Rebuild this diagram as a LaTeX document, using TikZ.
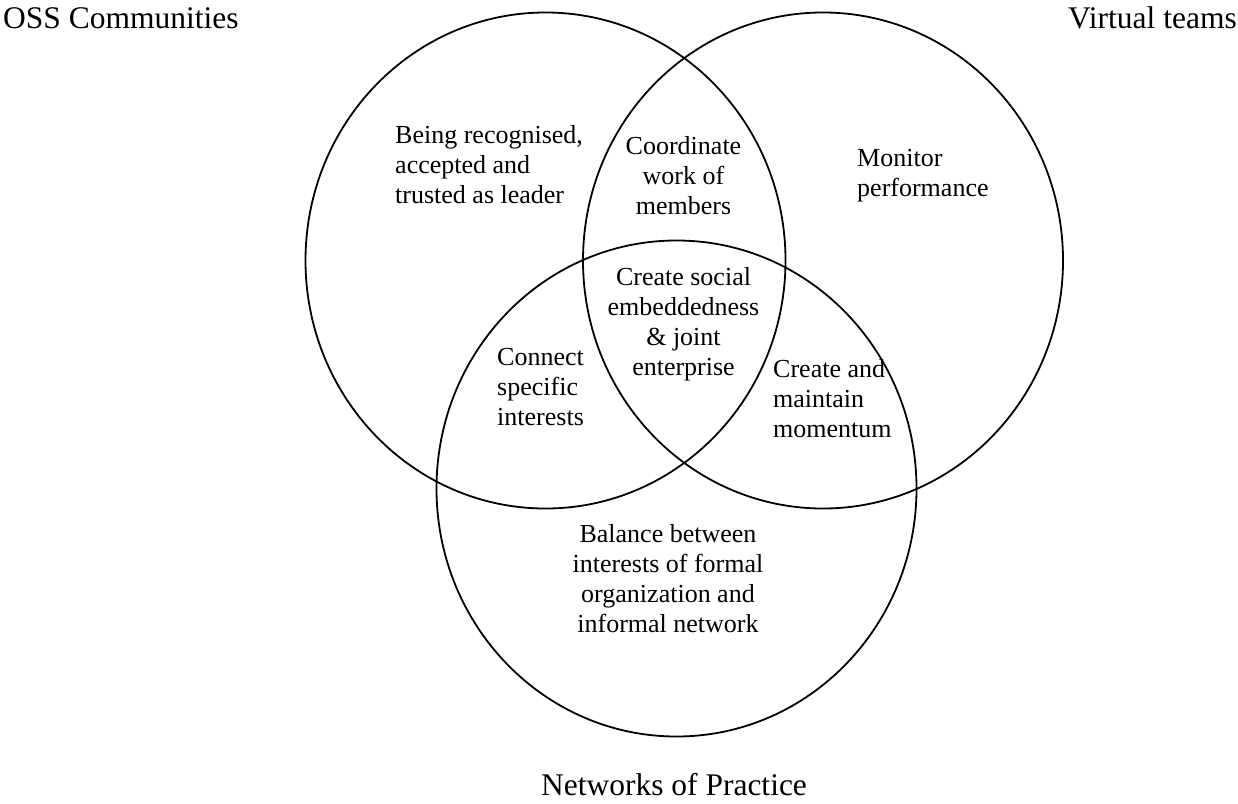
\documentclass[tikz,border=0pt]{standalone}
\usepackage{fontspec}
\setmainfont{Liberation Serif}
\begin{document}
\begin{tikzpicture}[x=1pt,y=-1pt,
  venn/.style={draw=black, line width=1.8pt},
  ttl/.style={inner sep=0pt, font=\fontsize{31.5}{36}\selectfont},
  body/.style={inner sep=0pt, font=\fontsize{26}{30}\selectfont}]
\useasboundingbox (0,0) rectangle (1238,803);
\coordinate (c1) at (545.5,260.5);
\coordinate (c2) at (823,260.5);
\coordinate (c3) at (676.5,488.5);
\draw[venn] (c1) ellipse [x radius=240, y radius=248];
\draw[venn] (c2) ellipse [x radius=240, y radius=248];
\draw[venn] (c3) ellipse [x radius=240, y radius=248];
\node[ttl, anchor=base west] (oss) at (3,28) {OSS Communities};
\node[ttl, anchor=base east] (vt) at (1237,28) {Virtual teams};
\node[ttl, anchor=base] (nop) at (674,795) {Networks of Practice};
% anchor = baseline of the last line
\node[body, align=left, anchor=base west] (lead) at (395,203) {Being recognised,\\accepted and\\trusted as leader};
\node[body, align=center, anchor=base] (coord) at (683.5,214) {Coordinate\\work of\\members};
\node[body, align=left, anchor=base west] (mon) at (857,196) {Monitor\\performance};
\node[body, align=center, anchor=base] (soc) at (683.5,375) {Create social\\embeddedness\\\& joint\\enterprise};
\node[body, align=left, anchor=base west] (conn) at (497,425) {Connect\\specific\\interests};
\node[body, align=left, anchor=base west] (mom) at (773,437) {Create and\\maintain\\momentum};
\node[body, align=center, anchor=base] (bal) at (668,632) {Balance between\\interests of formal\\organization and\\informal network};
\end{tikzpicture}
\end{document}
